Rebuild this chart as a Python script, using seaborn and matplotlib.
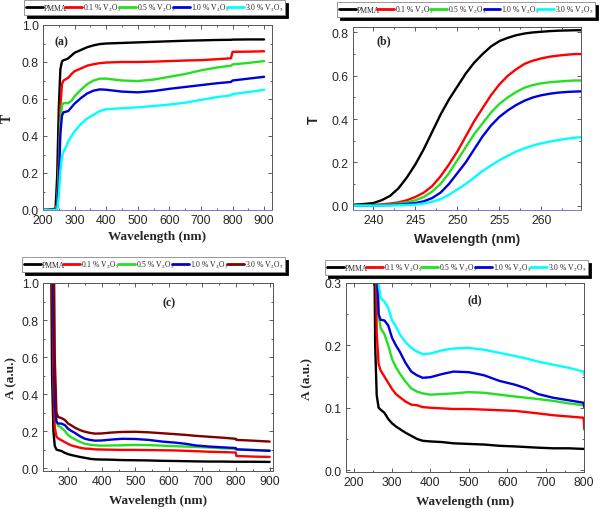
import numpy as np
import pandas as pd
import matplotlib
matplotlib.use("Agg")
import matplotlib.pyplot as plt
import seaborn as sns
from matplotlib.lines import Line2D
from matplotlib.ticker import MultipleLocator

# ---------------- data ----------------
series = ["PMMA", "0.1 %", "0.5 %", "1.0 %", "3.0 %"]
legend_labels = ["PMMA", r"0.1 % V$_2$O$_5$", r"0.5 % V$_2$O$_5$",
                 r"1.0 % V$_2$O$_5$", r"3.0 % V$_2$O$_5$"]

# (a) transmittance, full range
wl_a = [200, 235, 240, 245, 250, 255, 260, 265, 270, 280, 290, 300, 320, 340, 360,
        380, 400, 450, 500, 550, 600, 650, 700, 750, 795, 800, 850, 900]
T_a_pmma = [0, 0.005, 0.012, 0.19, 0.55, 0.76, 0.803, 0.81, 0.812, 0.82, 0.835, 0.85,
            0.865, 0.88, 0.89, 0.897, 0.90, 0.903, 0.906, 0.909, 0.912, 0.915, 0.917,
            0.919, 0.92, 0.921, 0.922, 0.922]
T_a_01 = [0, 0, 0.003, 0.04, 0.25, 0.56, 0.68, 0.70, 0.705, 0.715, 0.735, 0.75, 0.765,
          0.78, 0.788, 0.794, 0.797, 0.80, 0.80, 0.802, 0.805, 0.808, 0.81, 0.815, 0.82,
          0.855, 0.856, 0.858]
T_a_05 = [0, 0, 0, 0.025, 0.21, 0.47, 0.565, 0.578, 0.578, 0.578, 0.59, 0.615, 0.65,
          0.68, 0.70, 0.71, 0.71, 0.70, 0.697, 0.705, 0.72, 0.735, 0.755, 0.77, 0.78,
          0.787, 0.795, 0.805]
T_a_10 = [0, 0, 0, 0.012, 0.15, 0.41, 0.51, 0.528, 0.53, 0.535, 0.555, 0.575, 0.605,
          0.63, 0.645, 0.652, 0.65, 0.64, 0.636, 0.643, 0.655, 0.665, 0.675, 0.685,
          0.692, 0.70, 0.71, 0.72]
T_a_30 = [0, 0, 0, 0.005, 0.075, 0.21, 0.288, 0.317, 0.33, 0.37, 0.40, 0.425, 0.465,
          0.495, 0.515, 0.535, 0.545, 0.55, 0.555, 0.562, 0.57, 0.58, 0.595, 0.61, 0.62,
          0.627, 0.637, 0.65]

# (b) transmittance, absorption edge
wl_b = list(range(237, 266))
T_b_pmma = [0.003, 0.005, 0.008, 0.012, 0.025, 0.045, 0.08, 0.13, 0.19, 0.26, 0.34, 0.42,
            0.49, 0.55, 0.61, 0.66, 0.70, 0.735, 0.76, 0.775, 0.787, 0.795, 0.80, 0.803,
            0.806, 0.808, 0.809, 0.81, 0.81]
T_b_01 = [0.0, 0.001, 0.002, 0.003, 0.006, 0.01, 0.015, 0.025, 0.04, 0.06, 0.09, 0.135,
          0.19, 0.25, 0.32, 0.39, 0.45, 0.51, 0.56, 0.60, 0.63, 0.655, 0.67, 0.68, 0.688,
          0.693, 0.697, 0.70, 0.70]
T_b_05 = [0.0, 0.0, 0.001, 0.002, 0.003, 0.005, 0.01, 0.015, 0.025, 0.04, 0.065, 0.10,
          0.15, 0.21, 0.27, 0.33, 0.38, 0.43, 0.47, 0.50, 0.525, 0.545, 0.557, 0.565,
          0.57, 0.573, 0.576, 0.578, 0.578]
T_b_10 = [0.0, 0.0, 0.0, 0.001, 0.002, 0.003, 0.005, 0.008, 0.012, 0.02, 0.035, 0.06,
          0.10, 0.15, 0.20, 0.26, 0.32, 0.37, 0.41, 0.44, 0.465, 0.485, 0.50, 0.51, 0.517,
          0.522, 0.525, 0.527, 0.528]
T_b_30 = [0.0, 0.0, 0.0, 0.0, 0.001, 0.001, 0.002, 0.003, 0.005, 0.01, 0.018, 0.03, 0.05,
          0.075, 0.10, 0.13, 0.16, 0.185, 0.21, 0.23, 0.25, 0.265, 0.278, 0.288, 0.296,
          0.303, 0.309, 0.314, 0.317]

# (c)/(d) absorbance
wl_abs = [248, 252, 256, 260, 265, 270, 280, 290, 300, 310, 320, 335, 350, 365, 380,
          400, 430, 460, 500, 540, 580, 620, 650, 680, 720, 760, 799, 801, 850, 900]
A_pmma = [1.5, 0.5, 0.2, 0.12, 0.10, 0.097, 0.092, 0.082, 0.075, 0.07, 0.066, 0.06,
          0.055, 0.05, 0.047, 0.046, 0.045, 0.043, 0.042, 0.041, 0.039, 0.038, 0.037,
          0.036, 0.035, 0.035, 0.034, 0.034, 0.034, 0.033]
A_01 = [2.0, 1.2, 0.45, 0.22, 0.17, 0.16, 0.15, 0.14, 0.13, 0.122, 0.117, 0.11, 0.105,
        0.104, 0.101, 0.10, 0.099, 0.098, 0.098, 0.097, 0.096, 0.095, 0.093, 0.091,
        0.088, 0.086, 0.084, 0.065, 0.062, 0.06]
A_05 = [2.5, 1.8, 1.0, 0.4, 0.25, 0.228, 0.218, 0.2, 0.178, 0.165, 0.155, 0.142, 0.131,
        0.126, 0.123, 0.121, 0.122, 0.123, 0.125, 0.124, 0.121, 0.118, 0.116, 0.114,
        0.111, 0.107, 0.104, 0.101, 0.098, 0.095]
A_10 = [2.5, 1.8, 0.8, 0.33, 0.25, 0.241, 0.24, 0.232, 0.212, 0.2, 0.19, 0.172, 0.158,
        0.152, 0.148, 0.149, 0.154, 0.158, 0.157, 0.152, 0.143, 0.137, 0.131, 0.122,
        0.116, 0.112, 0.108, 0.101, 0.097, 0.093]
A_30 = [3.0, 2.5, 1.5, 0.6, 0.3, 0.276, 0.27, 0.26, 0.24, 0.23, 0.218, 0.205, 0.196,
        0.19, 0.186, 0.187, 0.192, 0.195, 0.196, 0.193, 0.188, 0.183, 0.179, 0.174,
        0.169, 0.164, 0.158, 0.152, 0.148, 0.143]

colors_T = ["#000000", "#ff0000", "#22e022", "#0000dd", "#00ffff"]
colors_c = ["#000000", "#ff0000", "#22e022", "#0000dd", "#800000"]
colors_d = ["#000000", "#ff0000", "#22e022", "#0000dd", "#00ffff"]


def long_df(x, ys, ycol):
    frames = []
    for name, y in zip(series, ys):
        frames.append(pd.DataFrame({"wl": x, ycol: y, "series": name}))
    return pd.concat(frames, ignore_index=True)


df_a = long_df(wl_a, [T_a_pmma, T_a_01, T_a_05, T_a_10, T_a_30], "T")
df_b = long_df(wl_b, [T_b_pmma, T_b_01, T_b_05, T_b_10, T_b_30], "T")
df_c = long_df(wl_abs, [A_pmma, A_01, A_05, A_10, A_30], "A")

# ---------------- style ----------------
sns.set_theme(style="ticks")
plt.rcParams["font.family"] = ["Liberation Sans", "DejaVu Sans"]
plt.rcParams["mathtext.fontset"] = "stix"

fig = plt.figure(figsize=(6.0, 5.1), dpi=100)
W, H = 600.0, 510.0


def add_ax(l, t, r, b):
    return fig.add_axes([l / W, 1 - b / H, (r - l) / W, (b - t) / H])


ax_a = add_ax(43, 26, 272, 211)
ax_b = add_ax(353, 28, 581, 211)
ax_c = add_ax(43, 284, 273, 472)
ax_d = add_ax(346, 284, 584, 473)

serif = ["Liberation Serif", "DejaVu Serif"]
sans = ["Liberation Sans", "DejaVu Sans"]


def style_ax(ax, xmaj, xmin, ymaj, ymin):
    ax.xaxis.set_major_locator(MultipleLocator(xmaj))
    ax.xaxis.set_minor_locator(MultipleLocator(xmin))
    ax.yaxis.set_major_locator(MultipleLocator(ymaj))
    ax.yaxis.set_minor_locator(MultipleLocator(ymin))
    ax.tick_params(which="both", direction="in", top=True, right=True,
                   labelsize=8.8, width=0.6, color="#444444")
    ax.tick_params(axis="x", pad=3)
    ax.tick_params(axis="y", pad=3)
    ax.tick_params(which="major", length=3)
    ax.tick_params(which="minor", length=1.5)
    for sp in ax.spines.values():
        sp.set_linewidth(0.7)
        sp.set_color("#555555")
    for lab in ax.get_xticklabels() + ax.get_yticklabels():
        lab.set_family(sans)


def legend(ax, colors, l, t, r):
    handles = [Line2D([], [], color=c, lw=2) for c in colors]
    leg = ax.legend(handles, legend_labels, ncol=5, loc="upper left",
                    bbox_to_anchor=(l / W, 1 - t / H, (r - l) / W, 0),
                    bbox_transform=fig.transFigure, mode="expand",
                    prop={"family": serif, "size": 5.5},
                    handlelength=2.2, handletextpad=0.15, columnspacing=0.2,
                    borderpad=0.25, borderaxespad=0, frameon=True, fancybox=False,
                    shadow={"color": "black", "alpha": 1.0})
    leg.get_frame().set_edgecolor("#888888")
    leg.get_frame().set_linewidth(0.6)
    return leg


# (a)
sns.lineplot(data=df_a, x="wl", y="T", hue="series", palette=colors_T,
             hue_order=series, linewidth=1.7, legend=False, ax=ax_a)
ax_a.set_xlim(200, 925)
ax_a.set_ylim(0, 1.0)
style_ax(ax_a, 100, 50, 0.2, 0.1)
ax_a.spines["bottom"].set_color("#7a7acc")
ax_a.set_xlabel("Wavelength (nm)", family=serif, weight="bold", size=9.5, labelpad=3)
ax_a.set_ylabel("T", family=serif, weight="bold", size=10, labelpad=6)
ax_a.text(0.05, 0.91, "(a)", transform=ax_a.transAxes, family=serif,
          weight="bold", size=8.5, va="center")
legend(ax_a, colors_T, 24, 1, 285)

# (b)
sns.lineplot(data=df_b, x="wl", y="T", hue="series", palette=colors_T,
             hue_order=series, linewidth=1.7, legend=False, ax=ax_b)
ax_b.set_xlim(237.6, 264.7)
ax_b.set_ylim(-0.02, 0.825)
style_ax(ax_b, 5, 2.5, 0.2, 0.1)
ax_b.spines["bottom"].set_color("#7a7acc")
ax_b.set_xlabel("Wavelength (nm)", family=sans, weight="bold", size=9.5, labelpad=5)
ax_b.set_ylabel("T", family=sans, weight="bold", size=10, labelpad=8)
ax_b.text(0.105, 0.93, "(b)", transform=ax_b.transAxes, family=serif,
          weight="bold", size=8.5, va="center")
legend(ax_b, colors_T, 337, 3, 595)

# (c)
sns.lineplot(data=df_c, x="wl", y="A", hue="series", palette=colors_c,
             hue_order=series, linewidth=1.7, legend=False, ax=ax_c)
ax_c.set_xlim(225, 910)
ax_c.set_ylim(-0.016, 1.0)
style_ax(ax_c, 100, 50, 0.2, 0.1)
ax_c.set_xlabel("Wavelength (nm)", family=serif, weight="bold", size=9.5, labelpad=5)
ax_c.set_ylabel("A (a.u.)", family=serif, weight="bold", size=9.5, labelpad=3)
ax_c.text(0.52, 0.90, "(c)", transform=ax_c.transAxes, family=serif,
          weight="bold", size=8.5, va="center")
legend(ax_c, colors_c, 22, 258, 285)

# (d)
sns.lineplot(data=df_c, x="wl", y="A", hue="series", palette=colors_d,
             hue_order=series, linewidth=1.7, legend=False, ax=ax_d)
ax_d.set_xlim(180, 800)
ax_d.set_ylim(-0.003, 0.3)
style_ax(ax_d, 100, 50, 0.1, 0.05)
ax_d.set_xlabel("Wavelength (nm)", family=serif, weight="bold", size=9.5, labelpad=5)
ax_d.set_ylabel("A (a.u.)", family=serif, weight="bold", size=9.5, labelpad=8)
ax_d.text(0.51, 0.915, "(d)", transform=ax_d.transAxes, family=serif,
          weight="bold", size=8.5, va="center")
legend(ax_d, colors_d, 325, 261, 588)

fig.savefig("out.png", dpi=100)
